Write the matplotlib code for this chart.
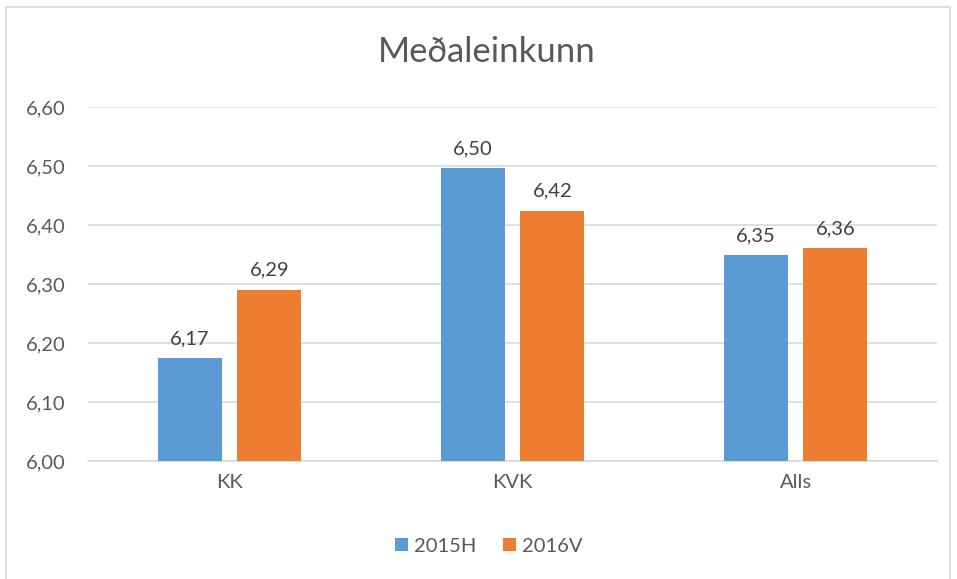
import matplotlib
matplotlib.use("Agg")
import matplotlib.pyplot as plt
import numpy as np
from matplotlib.patches import Rectangle

# data
categories = ["KK", "KVK", "Alls"]
series_names = ["2015H", "2016V"]
vals_2015H = [6.174, 6.496, 6.349]
vals_2016V = [6.290, 6.424, 6.361]
yticks = [6.00, 6.10, 6.20, 6.30, 6.40, 6.50, 6.60]

blue = "#5B9BD5"
orange = "#ED7D31"
txt = "#595959"
grid = "#D9D9D9"

plt.rcParams["font.family"] = ["Lato", "DejaVu Sans"]

fig = plt.figure(figsize=(9.57, 5.79), dpi=100)
ax = fig.add_axes([88/957, 1-461/579, (937-88)/957, (461-107)/579])

# chart border
fig.patches.append(Rectangle((6/957, -0.01), (950-6)/957, 1-7/579+0.01,
                             transform=fig.transFigure, fill=False,
                             edgecolor=grid, linewidth=1.2))

x = np.arange(len(categories))
w = 0.226
off = 0.141
b1 = ax.bar(x - off, np.array(vals_2015H) - 6, w, bottom=6, color=blue, label=series_names[0], zorder=3)
b2 = ax.bar(x + off, np.array(vals_2016V) - 6, w, bottom=6, color=orange, label=series_names[1], zorder=3)

for bars, vals in [(b1, vals_2015H), (b2, vals_2016V)]:
    for rect, v in zip(bars, vals):
        ax.annotate(f"{v:.2f}".replace(".", ","),
                    (rect.get_x() + rect.get_width()/2, v),
                    xytext=(0, 8), textcoords="offset points",
                    ha="center", va="bottom", fontsize=14.5, color="#404040")

ax.set_xlim(-0.5, 2.5)
ax.set_ylim(6.0, 6.6)
ax.set_yticks(yticks)
ax.set_yticklabels([f"{t:.2f}".replace(".", ",") for t in yticks])
ax.set_xticks(x)
ax.set_xticklabels(categories)
ax.tick_params(axis="both", length=0, labelsize=14.5, colors=txt)
ax.tick_params(axis="y", pad=16)
ax.tick_params(axis="x", pad=9)
ax.yaxis.grid(True, color=grid, linewidth=1.2, zorder=0)
for s in ["top", "right", "left"]:
    ax.spines[s].set_visible(False)
ax.spines["bottom"].set_color(grid)
ax.spines["bottom"].set_linewidth(1.2)

fig.text(487/957, 1-52/579, "Meðaleinkunn", ha="center", va="center",
         fontsize=25, color=txt)

fig.legend(loc="center", bbox_to_anchor=(489/957, 1-546/579), ncol=2,
           frameon=False, fontsize=14.5, labelcolor=txt,
           handlelength=0.65, handleheight=0.65, handletextpad=0.3,
           columnspacing=1.3)

fig.savefig("out.png", dpi=100)
